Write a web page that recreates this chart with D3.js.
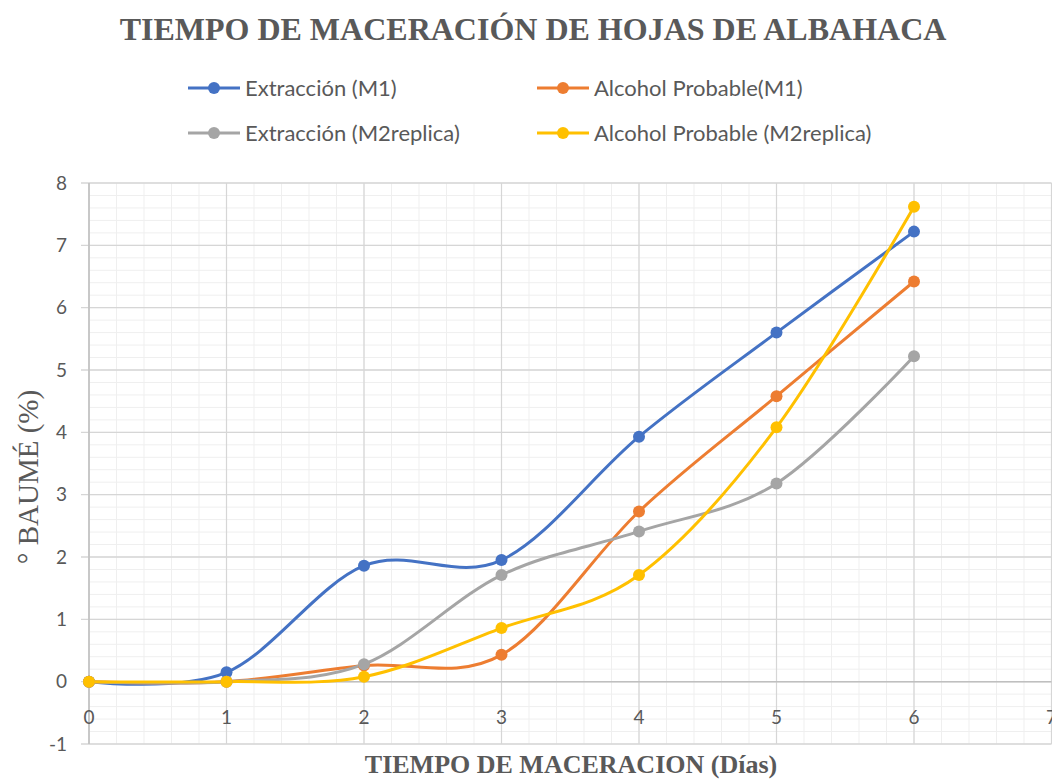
<!DOCTYPE html>
<html>
<head>
<meta charset="utf-8">
<script src="https://cdn.jsdelivr.net/npm/d3@7"></script>
<style>
  body { margin: 0; background: #fff; }
  text { fill: #595959; }
</style>
</head>
<body>
<div id="container"></div>
<script>
// data
var dias = [0, 1, 2, 3, 4, 5, 6];
var extraccionM1 = [0, 0.15, 1.86, 1.95, 3.93, 5.60, 7.22];
var alcoholM1 = [0, 0, 0.26, 0.43, 2.73, 4.58, 6.42];
var extraccionM2 = [0, 0, 0.28, 1.71, 2.41, 3.18, 5.22];
var alcoholM2 = [0, 0, 0.08, 0.86, 1.71, 4.08, 7.62];
var seriesNames = ["Extracción (M1)", "Alcohol Probable(M1)", "Extracción (M2replica)", "Alcohol Probable (M2replica)"];
var seriesColors = ["#4472C4", "#ED7D31", "#A5A5A5", "#FFC000"];
var yTicks = [-1, 0, 1, 2, 3, 4, 5, 6, 7, 8];
var xTicks = [0, 1, 2, 3, 4, 5, 6, 7];

width = 1052;
height = 780;

var svg = d3.select("#container").append("svg")
    .attr("width", width)
    .attr("height", height);

var x = d3.scaleLinear().domain([0, 7]).range([89, 1051.5]);
var y = d3.scaleLinear().domain([-1, 8]).range([744, 183]);

var sansFont = "Lato, 'Open Sans', sans-serif";
var serifFont = "'Liberation Serif', 'DejaVu Serif', serif";

// minor grid
var minorX = d3.range(0, 7.01, 0.2);
var minorY = d3.range(-1, 8.01, 0.2);
svg.append("g").selectAll("line").data(minorX).enter().append("line")
    .attr("x1", d => x(d)).attr("x2", d => x(d))
    .attr("y1", y(8)).attr("y2", y(-1))
    .style("stroke", "#efefef").style("stroke-width", 1);
svg.append("g").selectAll("line").data(minorY).enter().append("line")
    .attr("x1", x(0)).attr("x2", x(7))
    .attr("y1", d => y(d)).attr("y2", d => y(d))
    .style("stroke", "#efefef").style("stroke-width", 1);

// major grid
svg.append("g").selectAll("line").data(xTicks).enter().append("line")
    .attr("x1", d => x(d)).attr("x2", d => x(d))
    .attr("y1", y(8)).attr("y2", y(-1))
    .style("stroke", "#d6d6d6").style("stroke-width", 1.2);
svg.append("g").selectAll("line").data(yTicks).enter().append("line")
    .attr("x1", x(0) - 8).attr("x2", x(7))
    .attr("y1", d => y(d)).attr("y2", d => y(d))
    .style("stroke", "#d6d6d6").style("stroke-width", 1.4);

// axis lines
svg.append("line")
    .attr("x1", x(0)).attr("x2", x(0)).attr("y1", y(8)).attr("y2", y(-1))
    .style("stroke", "#bfbfbf").style("stroke-width", 1.5);
svg.append("line")
    .attr("x1", x(0)).attr("x2", x(7)).attr("y1", y(0)).attr("y2", y(0))
    .style("stroke", "#bfbfbf").style("stroke-width", 1.5);

// tick labels
svg.append("g").selectAll("text").data(yTicks).enter().append("text")
    .attr("x", 67).attr("y", d => y(d))
    .attr("dy", "0.35em")
    .attr("text-anchor", "end")
    .style("font-family", sansFont)
    .style("font-size", "19px")
    .text(d => d);
svg.append("g").selectAll("text").data(xTicks).enter().append("text")
    .attr("x", d => x(d)).attr("y", 717)
    .attr("dy", "0.35em")
    .attr("text-anchor", "middle")
    .style("font-family", sansFont)
    .style("font-size", "19px")
    .text(d => d);

// lines
var allSeries = [extraccionM1, alcoholM1, extraccionM2, alcoholM2];
var line = d3.line()
    .x((d, i) => x(dias[i]))
    .y(d => y(d))
    .curve(d3.curveCardinal.tension(0));

allSeries.forEach(function(vals, k) {
    svg.append("path")
        .attr("d", line(vals))
        .style("fill", "none")
        .style("stroke", seriesColors[k])
        .style("stroke-width", 3)
        .style("stroke-linecap", "round");
});
allSeries.forEach(function(vals, k) {
    svg.append("g").selectAll("circle").data(vals).enter().append("circle")
        .attr("cx", (d, i) => x(dias[i]))
        .attr("cy", d => y(d))
        .attr("r", 6)
        .style("fill", seriesColors[k]);
});

// title
svg.append("text")
    .attr("x", 533).attr("y", 40)
    .attr("text-anchor", "middle")
    .style("font-family", serifFont)
    .style("font-weight", "bold")
    .style("font-size", "32px")
    .text("TIEMPO DE MACERACIÓN DE HOJAS DE ALBAHACA");

// legend
var legendPos = [[188, 88], [537, 88], [188, 133], [537, 133]];
seriesNames.forEach(function(name, k) {
    var p = legendPos[k];
    svg.append("line")
        .attr("x1", p[0]).attr("x2", p[0] + 52)
        .attr("y1", p[1]).attr("y2", p[1])
        .style("stroke", seriesColors[k]).style("stroke-width", 3);
    svg.append("circle")
        .attr("cx", p[0] + 26).attr("cy", p[1]).attr("r", 6)
        .style("fill", seriesColors[k]);
    svg.append("text")
        .attr("x", p[0] + 57).attr("y", p[1])
        .attr("dy", "0.35em")
        .style("font-family", sansFont)
        .style("font-size", "22px")
        .text(name);
});

// axis titles
svg.append("text")
    .attr("transform", "translate(38,477) rotate(-90)")
    .attr("text-anchor", "middle")
    .style("font-family", serifFont)
    .style("font-size", "29px")
    .text("° BAUMÉ (%)");
svg.append("text")
    .attr("x", 571).attr("y", 773)
    .attr("text-anchor", "middle")
    .style("font-family", serifFont)
    .style("font-weight", "bold")
    .style("font-size", "26px")
    .text("TIEMPO DE MACERACION (Días)");
</script>
</body>
</html>
